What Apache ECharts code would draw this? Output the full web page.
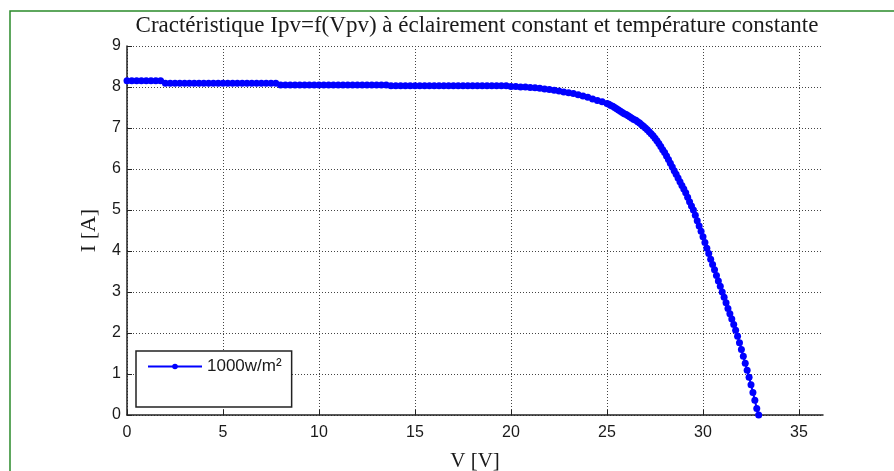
<!DOCTYPE html>
<html>
<head>
<meta charset="utf-8">
<script src="https://cdn.jsdelivr.net/npm/echarts@6/dist/echarts.min.js"></script>
<style>
  html, body { margin: 0; padding: 0; background: #fff; }
  #chart { width: 894px; height: 471px; }
</style>
</head>
<body>
<div id="chart"></div>
<script>
const TITLE = 'Cractéristique Ipv=f(Vpv) à éclairement constant et température constante';
const SERIES_NAME = '1000w/m²';

// V [V] readings along the curve
const voltage = [
    0, 0.25, 0.5, 0.75, 1, 1.25, 1.5, 1.75,
    2, 2.25, 2.5, 2.75, 3, 3.25, 3.5, 3.75, 4, 4.25, 4.5, 4.75, 5, 5.25, 5.5, 5.75,
    6, 6.25, 6.5, 6.75, 7, 7.25, 7.5, 7.75,
    8, 8.25, 8.5, 8.75, 9, 9.25, 9.5, 9.75, 10, 10.25, 10.5, 10.75, 11, 11.25, 11.5, 11.75,
    12, 12.25, 12.5, 12.75, 13, 13.25, 13.5,
    13.75, 14, 14.25, 14.5, 14.75, 15, 15.25, 15.5, 15.75, 16, 16.25, 16.5, 16.75, 17, 17.25,
    17.5, 17.75, 18, 18.25, 18.5, 18.75, 19, 19.25, 19.5, 19.75,
    20, 20.25, 20.5, 20.75, 21, 21.25, 21.5, 21.75, 22, 22.25, 22.5, 22.75, 23, 23.25, 23.5, 23.75,
    24, 24.25, 24.5, 24.75, 25,
    25.1, 25.2, 25.3, 25.4, 25.5, 25.6, 25.7, 25.8, 25.9, 26,
    26.1, 26.2, 26.3, 26.4, 26.5, 26.6, 26.7, 26.8, 26.9, 27,
    27.1, 27.2, 27.3, 27.4, 27.5, 27.6, 27.7, 27.8, 27.9, 28,
    28.1, 28.2, 28.3, 28.4, 28.5, 28.6, 28.7, 28.8, 28.9, 29,
    29.1, 29.2, 29.3, 29.4, 29.5, 29.6, 29.7, 29.8, 29.9, 30,
    30.1, 30.2, 30.3, 30.4, 30.5, 30.6, 30.7, 30.8, 30.9, 31,
    31.1, 31.2, 31.3, 31.4, 31.5, 31.6, 31.7, 31.8, 31.9, 32,
    32.1, 32.2, 32.3, 32.4, 32.5, 32.6, 32.7, 32.8, 32.9
];

// I [A] readings, same order as voltage
const current = [
    8.15, 8.15, 8.15, 8.15, 8.15, 8.15, 8.15, 8.15,
    8.09, 8.09, 8.09, 8.09, 8.09, 8.09, 8.09, 8.09, 8.09, 8.09, 8.09, 8.09, 8.09, 8.09, 8.09, 8.09,
    8.09, 8.09, 8.09, 8.09, 8.09, 8.09, 8.09, 8.09,
    8.05, 8.05, 8.05, 8.05, 8.05, 8.05, 8.05, 8.05, 8.05, 8.05, 8.05, 8.05, 8.05, 8.05, 8.05, 8.05,
    8.05, 8.05, 8.05, 8.05, 8.05, 8.05, 8.05,
    8.03, 8.03, 8.03, 8.03, 8.03, 8.03, 8.03, 8.03, 8.03, 8.03, 8.03, 8.03, 8.03, 8.03, 8.03,
    8.03, 8.03, 8.03, 8.03, 8.03, 8.03, 8.03, 8.03, 8.03, 8.03,
    8.01, 8.01, 8.00, 8.00, 7.99, 7.98, 7.97, 7.95, 7.94, 7.92, 7.90, 7.88, 7.86, 7.84, 7.81, 7.78,
    7.75, 7.71, 7.67, 7.64, 7.60,
    7.58, 7.55, 7.53, 7.50, 7.47, 7.44, 7.41, 7.38, 7.35, 7.33,
    7.30, 7.27, 7.24, 7.21, 7.19, 7.15, 7.12, 7.08, 7.04, 7.00,
    6.96, 6.91, 6.86, 6.81, 6.75, 6.69, 6.62, 6.55, 6.47, 6.40,
    6.32, 6.23, 6.14, 6.05, 5.96, 5.87, 5.78, 5.69, 5.60, 5.51,
    5.42, 5.31, 5.20, 5.10, 5.00, 4.87, 4.74, 4.61, 4.48, 4.35,
    4.21, 4.07, 3.94, 3.80, 3.67, 3.54, 3.40, 3.27, 3.14, 3.00,
    2.87, 2.74, 2.60, 2.47, 2.34, 2.21, 2.07, 1.92, 1.76, 1.60,
    1.43, 1.26, 1.09, 0.92, 0.74, 0.55, 0.36, 0.16, 0.00
];

const xRange = [0, 36.25];
const yRange = [0, 9];

const chart = echarts.init(document.getElementById('chart'), null, { renderer: 'canvas' });

const serif = 'Liberation Serif, Times New Roman, serif';
const sans = 'Liberation Sans, Arial, sans-serif';
const gridLine = { show: true, showMaxLine: true, lineStyle: { color: '#444', type: [1, 2], width: 1 } };
const tickFont = { fontFamily: sans, fontSize: 16, color: '#1a1a1a' };

chart.setOption({
    animation: false,
    backgroundColor: '#fff',
    title: {
        text: TITLE,
        left: 472,
        textAlign: 'center',
        top: 9,
        textStyle: { fontFamily: serif, fontSize: 23, fontWeight: 'normal', color: '#1a1a1a' }
    },
    graphic: [{
        type: 'rect',
        shape: { x: 10, y: 11, width: 900, height: 480 },
        style: { fill: 'none', stroke: '#2a8a2a', lineWidth: 1.5 },
        silent: true,
        z: -1
    }],
    grid: { left: 127, right: 71, top: 46, bottom: 56, containLabel: false, outerBoundsMode: 'none' },
    legend: {
        left: 136,
        top: 351,
        orient: 'vertical',
        data: [SERIES_NAME],
        itemWidth: 54,
        itemHeight: 7,
        itemGap: 6,
        padding: [7, 10, 32, 11],
        backgroundColor: '#fff',
        borderColor: '#222',
        borderWidth: 1.5,
        textStyle: { fontFamily: sans, fontSize: 17, color: '#1a1a1a' }
    },
    xAxis: {
        type: 'value',
        min: xRange[0],
        max: xRange[1],
        interval: 5,
        name: 'V [V]',
        nameLocation: 'middle',
        nameGap: 36,
        nameTextStyle: { fontFamily: serif, fontSize: 21, color: '#1a1a1a' },
        axisLine: { show: true, lineStyle: { color: '#222', width: 1.5 } },
        axisTick: { show: true, inside: true, length: 5, lineStyle: { color: '#222' } },
        axisLabel: Object.assign({ margin: 10, showMaxLabel: false }, tickFont),
        splitLine: Object.assign({}, gridLine, { showMaxLine: false })
    },
    yAxis: {
        type: 'value',
        min: yRange[0],
        max: yRange[1],
        interval: 1,
        name: 'I [A]',
        nameLocation: 'middle',
        nameGap: 27,
        nameRotate: 90,
        nameTextStyle: { fontFamily: serif, fontSize: 22, color: '#1a1a1a' },
        axisLine: { show: true, lineStyle: { color: '#222', width: 1.5 } },
        axisTick: { show: true, inside: true, length: 5, lineStyle: { color: '#222' } },
        axisLabel: Object.assign({ margin: 6 }, tickFont),
        splitLine: gridLine
    },
    series: [{
        name: SERIES_NAME,
        type: 'line',
        data: voltage.map((v, i) => [v, current[i]]),
        symbol: 'circle',
        symbolSize: 7,
        showSymbol: true,
        showAllSymbol: true,
        color: '#0000ff',
        lineStyle: { color: '#0000ff', width: 2 },
        itemStyle: { color: '#0000ff' },
        clip: false,
        z: 3
    }]
});
</script>
</body>
</html>
